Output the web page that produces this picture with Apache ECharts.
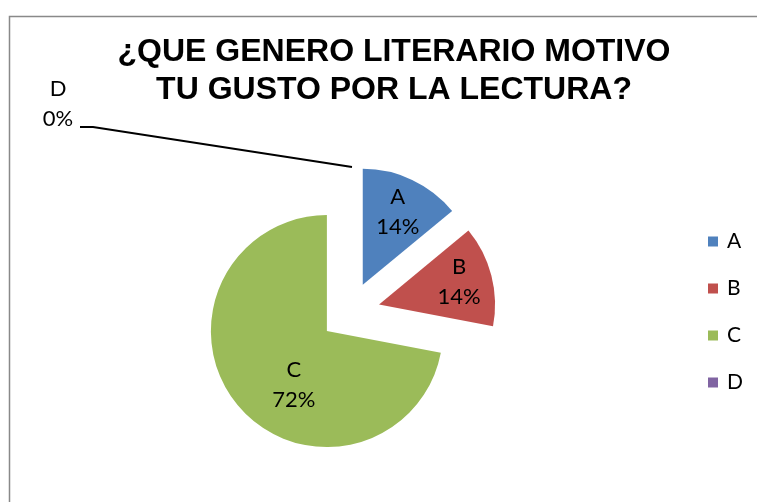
<!DOCTYPE html>
<html>
<head>
<meta charset="utf-8">
<script src="https://cdn.jsdelivr.net/npm/echarts@6/dist/echarts.min.js"></script>
<style>html,body{margin:0;padding:0;background:#fff}#c{width:757px;height:502px}</style>
</head>
<body>
<div id="c"></div>
<script>
const categories = ['A', 'B', 'C', 'D'];
const values = [14, 14, 72, 0];
const colors = ['#4F81BD', '#C0504D', '#9BBB59', '#8064A2'];
const titleText = '¿QUE GENERO LITERARIO MOTIVO\nTU GUSTO POR LA LECTURA?';

const chart = echarts.init(document.getElementById('c'));
const labelFont = 'Lato, "Noto Sans", sans-serif';
const labelShift = [[9, -18], [21, -7], [14, 15]];

chart.setOption({
  animation: false,
  graphic: [{
    type: 'rect', left: 7, top: 14, shape: { width: 770, height: 500 },
    style: { fill: 'none', stroke: '#898989', lineWidth: 1.5 }, silent: true, z: -1
  }],
  title: {
    text: titleText, left: 389, top: 28, textAlign: 'center',
    textStyle: { fontFamily: '"Liberation Sans", Arial, sans-serif', fontWeight: 'bold', fontSize: 32, lineHeight: 38, color: '#000' }
  },
  legend: {
    orient: 'vertical', left: 703, top: 226, itemGap: 26, itemWidth: 10, itemHeight: 10, icon: 'rect',
    data: categories,
    textStyle: { fontFamily: labelFont, fontSize: 21, color: '#000', padding: [0, 0, 0, 4] }
  },
  series: [{
    type: 'pie',
    center: [350, 312], radius: 116, startAngle: 90, clockwise: true,
    selectedMode: 'multiple', selectedOffset: 30,
    emphasis: { disabled: true },
    label: {
      position: 'inside', formatter: '{b}\n{d}%', color: '#000',
      fontFamily: labelFont, fontSize: 22, lineHeight: 30
    },
    labelLine: { show: false },
    labelLayout: function (p) {
      if (p.dataIndex === 3) {
        return { x: 58, y: 104, align: 'center', verticalAlign: 'middle',
          labelLinePoints: [[352, 167], [93, 127], [80, 127]] };
      }
      const s = labelShift[p.dataIndex];
      return { dx: s[0], dy: s[1] };
    },
    data: categories.map((c, i) => {
      const item = { name: c, value: values[i], selected: i !== 3, itemStyle: { color: colors[i] } };
      if (i === 3) {
        item.label = { position: 'outside' };
        item.labelLine = { show: true, lineStyle: { color: '#000', width: 2 }, length: 10, length2: 10 };
      }
      return item;
    })
  }]
});
</script>
</body>
</html>
